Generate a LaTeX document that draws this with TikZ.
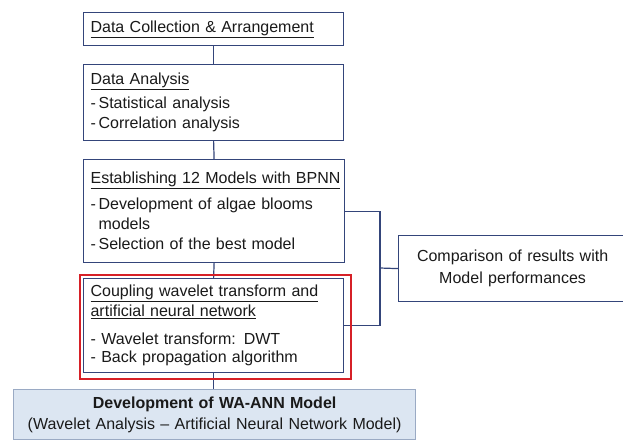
\documentclass[tikz,border=0pt]{standalone}
\usepackage{fontspec}
\setmainfont{Liberation Sans}
\definecolor{navy}{HTML}{34457A}
\definecolor{ink}{HTML}{1A1A1A}
\definecolor{hilite}{HTML}{D62027}
\definecolor{paleblue}{HTML}{DCE6F2}
\definecolor{paleedge}{HTML}{9AAAC4}
\begin{document}
\begin{tikzpicture}[x=1pt,y=-1pt,
  box/.style={draw=navy, line width=1.2pt, fill=white, rectangle,
    anchor=north west, inner xsep=7pt, inner ysep=0pt, align=left,
    text=ink, font=\fontsize{16}{20}\selectfont},
  link/.style={draw=navy, line width=1.2pt}]
\useasboundingbox (0,0) rectangle (623,440);

% main column
\node[box, minimum width=260, minimum height=33, text width=246] (b1) at (83,12)
  {\underline{Data Collection \& Arrangement}};
\node[box, minimum width=260, minimum height=76, text width=246] (b2) at (83,64)
  {\underline{Data Analysis}\\[4pt]
   -\,Statistical analysis\\
   -\,Correlation analysis};
\node[box, minimum width=261, minimum height=103, text width=247, inner xsep=5pt] (b3) at (83,159)
  {\underline{Establishing 12 Models with BPNN}\\[6pt]
   -\,Development of algae blooms\\
   \phantom{-\,}models\\
   -\,Selection of the best model};
\node[box, minimum width=260, minimum height=94, text width=246] (b4) at (83,278)
  {\underline{Coupling wavelet transform and}\\
   \underline{artificial neural network}\\[8pt]
   - Wavelet transform: DWT\\[-2pt]
   - Back propagation algorithm};
\node[box, draw=paleedge, fill=paleblue, minimum width=402, minimum height=50,
  text width=388, align=center, font=\fontsize{16}{21}\selectfont] (b5) at (13,389)
  {\textbf{Development of WA-ANN Model}\\
   (Wavelet Analysis -- Artificial Neural Network Model)};

% side box
\node[box, minimum width=228, minimum height=66, text width=214, align=center,
  font=\fontsize{16}{22}\selectfont] (comp) at (398,235)
  {Comparison of results with\\Model performances};

% connectors
\draw[link] (b1.south) -- (b2.north);
\draw[link] (b2.south) -- (b3.north);
\draw[link] (b3.south) -- (b4.north);
\draw[link] (b4.south) -- (b4.south |- b5.north);
\coordinate (jx) at (380,268);
\draw[link] (b3.east) -| (jx) |- (b4.east);
\draw[link] (jx) -- (comp.west);

% highlight frame round the coupling step
\node[draw=hilite, line width=1.5pt, rectangle, inner sep=0pt, anchor=north west,
  minimum width=271, minimum height=104] (frame) at (79,274) {};
\end{tikzpicture}
\end{document}
